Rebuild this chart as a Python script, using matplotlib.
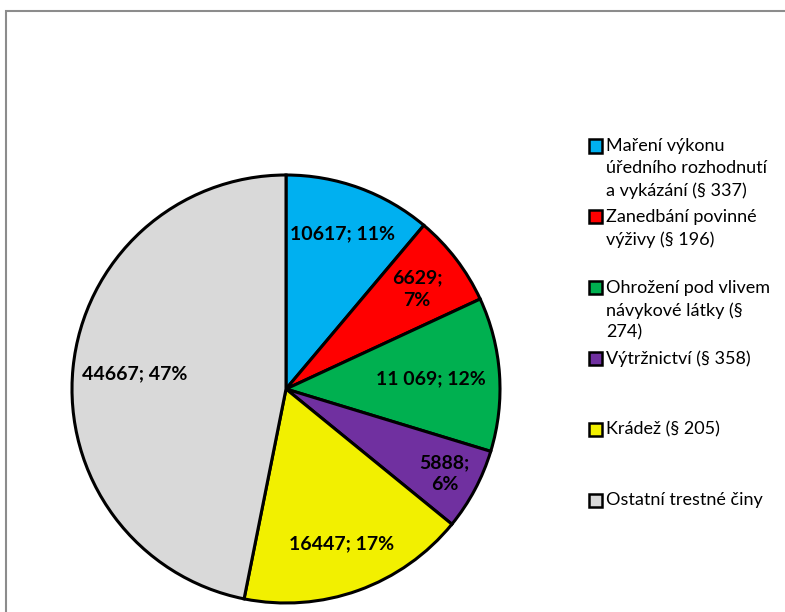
import matplotlib
matplotlib.use("Agg")
import matplotlib.pyplot as plt
from matplotlib.patches import Rectangle
import numpy as np

# ---- data ----
categories = [
    "Maření výkonu\núředního rozhodnutí\na vykázání (§ 337)",
    "Zanedbání povinné\nvýživy (§ 196)",
    "Ohrožení pod vlivem\nnávykové látky (§\n274)",
    "Výtržnictví (§ 358)",
    "Krádež (§ 205)",
    "Ostatní trestné činy",
]
values = [10617, 6629, 11069, 5888, 16447, 44667]
value_labels = ["10617", "6629", "11 069", "5888", "16447", "44667"]
label_breaks = [False, True, False, True, False, False]

# ---- styles ----
colors = ["#00B0F0", "#FF0000", "#00B050", "#7030A0", "#F2F000", "#D9D9D9"]
label_dist = [0.77, 0.77, 0.68, 0.84, 0.77, 0.71]

W, H = 785, 612
fig = plt.figure(figsize=(W / 100, H / 100), dpi=100)

# frame
fig.patches.append(Rectangle((6 / W, -0.05), 1.1, 1 - 11 / H + 0.05,
                             transform=fig.transFigure, fill=False,
                             edgecolor="#8c8c8c", linewidth=1.5))

cx, cy, R = 286, 389, 214
ax = fig.add_axes([(cx - R) / W, (H - cy - R) / H, 2 * R / W, 2 * R / H])

wedges, _ = ax.pie(values, colors=colors, startangle=90, counterclock=False,
                   radius=1, wedgeprops=dict(edgecolor="black", linewidth=2.2))
ax.set_xlim(-1, 1)
ax.set_ylim(-1, 1)
ax.set_aspect("equal")
ax.axis("off")

total = sum(values)
for w, v, lab, br, d in zip(wedges, values, value_labels, label_breaks, label_dist):
    ang = np.deg2rad((w.theta1 + w.theta2) / 2)
    pct = f"{round(100 * v / total)}%"
    txt = f"{lab};\n{pct}" if br else f"{lab}; {pct}"
    ax.text(d * np.cos(ang), d * np.sin(ang), txt, ha="center", va="center",
            fontsize=14, fontweight="bold", family="Lato", linespacing=1.4)

# legend (manual, top aligned entries)
y0, dy = 146, 70.8
for i, (c, name) in enumerate(zip(colors, categories)):
    y = y0 + i * dy
    fig.patches.append(Rectangle((589 / W, 1 - (y + 6.5) / H), 13 / W, 13 / H,
                                 transform=fig.transFigure, facecolor=c,
                                 edgecolor="black", linewidth=1.8))
    fig.text(606 / W, 1 - (y - 8) / H, name, ha="left", va="top",
             fontsize=13, family="Lato", linespacing=1.47)

fig.savefig("out.png", dpi=100)
